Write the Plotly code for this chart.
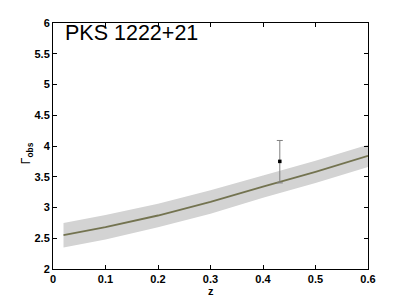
import plotly.graph_objects as go

# Model curve (z vs Gamma_obs) and band
z_model = [0.02, 0.1, 0.2, 0.3, 0.4, 0.5, 0.6]
g_model = [2.55, 2.68, 2.87, 3.09, 3.34, 3.58, 3.84]
g_upper = [2.75, 2.88, 3.06, 3.28, 3.52, 3.76, 4.02]
g_lower = [2.35, 2.48, 2.68, 2.90, 3.16, 3.40, 3.66]

# Observed point
z_obs = [0.432]
g_obs = [3.75]
g_err_plus = [0.34]
g_err_minus = [0.35]

fig = go.Figure()
fig.add_trace(go.Scatter(x=z_model + z_model[::-1], y=g_upper + g_lower[::-1],
                         fill="toself", fillcolor="#d3d3d3", line=dict(width=0),
                         mode="lines", hoverinfo="skip", showlegend=False))
fig.add_trace(go.Scatter(x=z_model, y=g_model, mode="lines",
                         line=dict(color="#737350", width=1.8), showlegend=False))
fig.add_trace(go.Scatter(x=z_obs, y=g_obs, mode="markers",
                         marker=dict(color="black", size=3.5, symbol="square"),
                         error_y=dict(type="data", symmetric=False, array=g_err_plus,
                                      arrayminus=g_err_minus, color="#808080",
                                      thickness=1, width=3),
                         showlegend=False))

fig.add_annotation(x=0.019, y=5.95, xref="x", yref="y", text="PKS 1222+21",
                   showarrow=False, xanchor="left", yanchor="top", yshift=7,
                   font=dict(family="Arial, Liberation Sans", size=21.5, color="black"))

# axis titles
fig.add_annotation(x=0.5, y=-0.09, xref="paper", yref="paper", text="<b>z</b>",
                   showarrow=False, xanchor="center", yanchor="middle",
                   font=dict(family="Arial, Liberation Sans", size=11, color="black"))
fig.add_annotation(x=-0.08, y=0.47, xref="paper", yref="paper",
                   text="Γ<sub><b>obs</b></sub>", textangle=-90,
                   showarrow=False, xanchor="center", yanchor="middle",
                   font=dict(family="Arial, Liberation Sans", size=12, color="black"))

axis_common = dict(showline=True, linecolor="black", linewidth=1, mirror="ticks",
                   ticks="inside", ticklen=4, tickcolor="black", showgrid=False,
                   zeroline=False, automargin=False,
                   tickfont=dict(family="Arial, Liberation Sans", size=11, color="black",
                                 weight="bold"))

fig.update_xaxes(range=[0, 0.6], tickvals=[0, 0.1, 0.2, 0.3, 0.4, 0.5, 0.6],
                 ticktext=["0", "0.1", "0.2", "0.3", "0.4", "0.5", "0.6"],
                 **axis_common)
fig.update_yaxes(range=[2, 6], tickvals=[2, 2.5, 3, 3.5, 4, 4.5, 5, 5.5, 6],
                 ticktext=["2", "2.5", "3", "3.5", "4", "4.5", "5", "5.5", "6"],
                 **axis_common)

# page body has an 8px margin: shift plot so its frame lands at the reference position
fig.update_layout(width=391, height=294, margin=dict(l=45, r=31, t=15, b=33),
                  plot_bgcolor="white", paper_bgcolor="white")

fig.write_html("out.html")
